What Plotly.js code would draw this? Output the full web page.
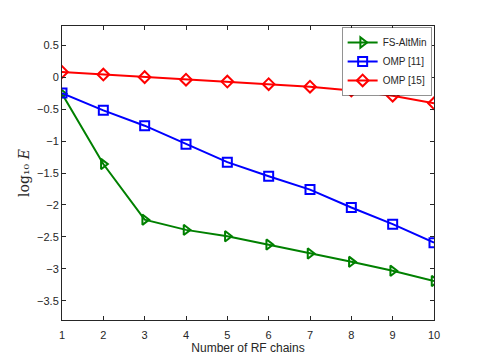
<!DOCTYPE html>
<html>
<head>
<meta charset="utf-8">
<script src="https://cdn.plot.ly/plotly-3.0.1.min.js"></script>
<style>
  body { margin: 0; background: #fff; }
  #plot { width: 480px; height: 360px; }
</style>
</head>
<body>
<div id="plot"></div>
<script>
const chains = [1, 2, 3, 4, 5, 6, 7, 8, 9, 10];
const fsAltMin = [-0.26, -1.36, -2.23, -2.39, -2.49, -2.62, -2.76, -2.89, -3.03, -3.19];
const omp11 = [-0.25, -0.52, -0.76, -1.05, -1.33, -1.55, -1.76, -2.04, -2.30, -2.59];
const omp15 = [0.08, 0.04, 0.0, -0.04, -0.07, -0.11, -0.15, -0.21, -0.29, -0.41];
const yTicks = [-3.5, -3, -2.5, -2, -1.5, -1, -0.5, 0, 0.5];

function series(name, y, color, symbol) {
  return {
    x: chains, y: y, name: name, type: 'scatter', mode: 'lines+markers',
    line: {color: color, width: 2},
    marker: {symbol: symbol, size: 9, color: color, line: {color: color, width: 2}}
  };
}

const data = [
  series('FS-AltMin', fsAltMin, '#008000', 'triangle-right-open'),
  series('OMP [11]', omp11, '#0000ff', 'square-open'),
  series('OMP [15]', omp15, '#ff0000', 'diamond-open')
];

const axisStyle = {
  showgrid: false, zeroline: false, showline: true, mirror: 'ticks',
  linecolor: '#262626', linewidth: 1, ticks: 'inside', ticklen: 4,
  tickcolor: '#262626', tickfont: {family: 'Liberation Sans, Arial', size: 11, color: '#262626'}
};

const layout = {
  width: 480, height: 360,
  margin: {l: 62, r: 46, t: 26, b: 40},
  paper_bgcolor: '#fff', plot_bgcolor: '#fff',
  showlegend: true,
  legend: {
    x: 0.995, y: 0.995, xanchor: 'right', yanchor: 'top',
    bgcolor: '#fff', bordercolor: '#262626', borderwidth: 0.5,
    font: {family: 'Liberation Sans, Arial', size: 10, color: '#262626'},
    tracegroupgap: 0, itemwidth: 30
  },
  xaxis: Object.assign({}, axisStyle, {
    range: [1, 10], tickvals: chains, ticklabelstandoff: 5,
    title: {text: 'Number of RF chains', standoff: 2, font: {family: 'Liberation Sans, Arial', size: 12, color: '#262626'}}
  }),
  yaxis: Object.assign({}, axisStyle, {
    range: [-3.8, 0.8], tickvals: yTicks,
    title: {text: 'log₁₀ <i>E</i>', standoff: 4, font: {family: 'DejaVu Serif, serif', size: 14, color: '#262626'}}
  })
};

Plotly.newPlot('plot', data, layout, {displayModeBar: false});
</script>
</body>
</html>
